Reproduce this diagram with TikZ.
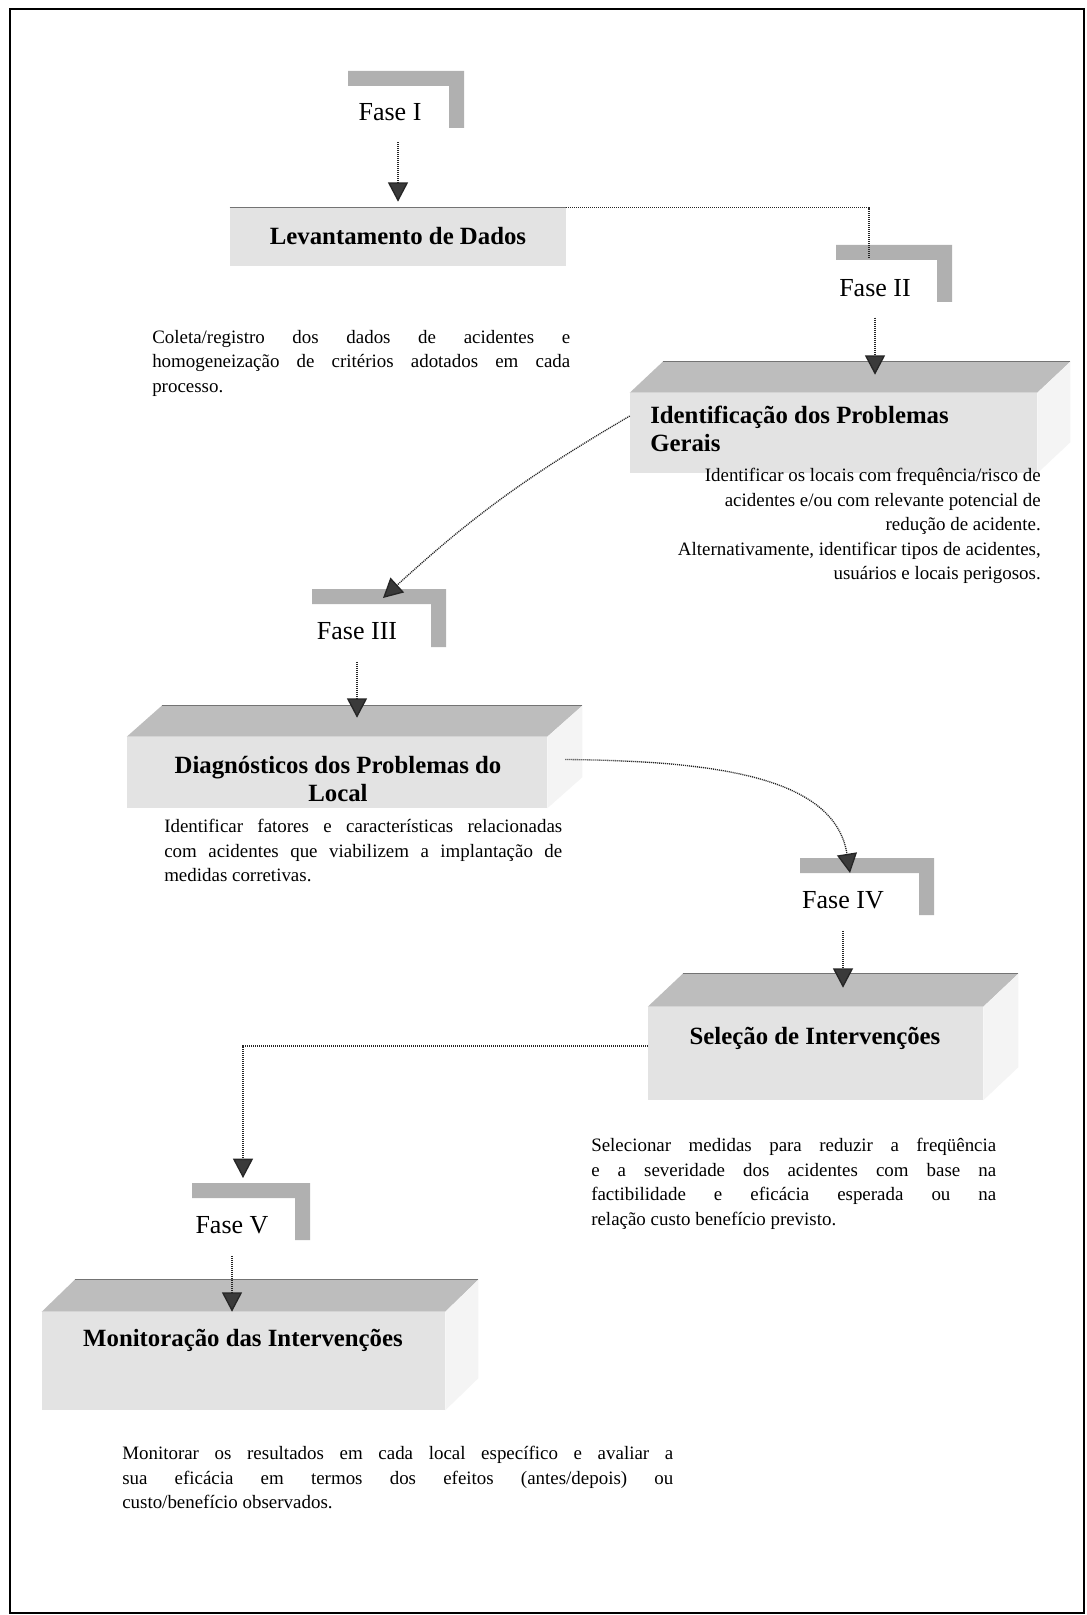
\documentclass[tikz,border=0pt]{standalone}
\usepackage{fontspec}
\setmainfont{Liberation Serif}
\usetikzlibrary{arrows.meta}

\definecolor{bargray}{HTML}{B0B0B0}
\definecolor{topgray}{HTML}{BDBDBD}
\definecolor{frontgray}{HTML}{E3E3E3}
\definecolor{sidegray}{HTML}{F4F4F4}
\definecolor{tipgray}{HTML}{3A3A3A}

\tikzset{
  bodytext/.style={font=\fontsize{14.2}{18.4}\selectfont, inner sep=0pt, align=justify},
  boxtitle/.style={font=\fontsize{18.6}{21}\selectfont\bfseries, inner sep=0pt},
  faselabel/.style={font=\fontsize{19.5}{22}\selectfont, inner sep=0pt},
  frontface/.style={fill=frontgray, draw=none, inner sep=0pt},
  flow/.style={line width=1pt, dash pattern=on 0.8pt off 0.7pt, draw=black!85},
  arr/.style={flow, -{Triangle[width=15pt,length=14.5pt,fill=tipgray]}},
}

% L-shaped phase marker: #1,#2 top-left corner, #3 right end, #4 bottom of the vertical bar
\newcommand\phasemark[4]{%
  \fill[bargray] (#1,#2) -- (#3,#2) -- (#3,#4) -- (#3-15,#4) -- (#3-15,#2+15) -- (#1,#2+15) -- cycle;}

% top and side faces of a block whose front face is node #1, depth (#2,#3)
\newcommand\blockfaces[3]{%
  \fill[topgray] (#1.north west) -- ++(#2,-#3) -- ([shift={(#2,-#3)}]#1.north east) -- (#1.north east) -- cycle;
  \fill[sidegray] (#1.north east) -- ++(#2,-#3) -- ([shift={(#2,-#3)}]#1.south east) -- (#1.south east) -- cycle;
  \draw[black!55, line width=0.5pt] ([shift={(#2,-#3)}]#1.north west) -- ([shift={(#2,-#3)}]#1.north east);}

\begin{document}
\begin{tikzpicture}[x=0.75pt, y=-0.75pt]
\useasboundingbox (0,0) rectangle (1086,1615);
\fill[white] (0,0) rectangle (1086,1615);
\draw[line width=1.8pt] (10,9) rectangle (1084,1613);

% phase markers
\phasemark{348}{71}{464}{128}
\phasemark{836}{245}{952}{302}
\phasemark{312}{589}{446}{647}
\phasemark{800}{858}{934}{915}
\phasemark{192}{1183}{310}{1240}

% block front faces
\node[frontface, minimum width=252pt, minimum height=43.5pt] (lev) at (398,237) {};
\draw[black!55, line width=0.5pt] (lev.north west) -- (lev.north east);
\node[frontface, minimum width=305.25pt, minimum height=60pt] (ident) at (833.5,433) {};
\blockfaces{ident}{33}{31}
\node[frontface, minimum width=315pt, minimum height=53.25pt] (diag) at (337,772.5) {};
\blockfaces{diag}{35}{31}
\node[frontface, minimum width=251.25pt, minimum height=69.75pt] (sel) at (815.5,1053.5) {};
\blockfaces{sel}{35}{33}
\node[frontface, minimum width=302.25pt, minimum height=73.5pt] (mon) at (243.5,1361) {};
\blockfaces{mon}{33}{32}

% phase labels
\node[faselabel] (f1) at (390,112.5) {Fase I};
\node[faselabel] (f2) at (875,288) {Fase II};
\node[faselabel] (f3) at (357,631) {Fase III};
\node[faselabel] (f4) at (843,900) {Fase IV};
\node[faselabel] (f5) at (232,1225) {Fase V};

% free ends of connectors
\coordinate (f2top) at (869,258);
\coordinate (f3in) at (383,598);
\coordinate (f4in) at (850,873);
\coordinate (f5in) at (243,1178);

% connectors
\draw[arr, shorten <=15.5pt, shorten >=4.5pt] (lev.north |- f1.south) -- (lev.north);
\draw[flow] (lev.north east) -| (f2top);
\draw[arr, shorten <=15.5pt, shorten >=13.5pt] (f2.south) -- (f2.south |- ident.north);
\draw[arr] ([yshift=12.75pt]ident.west) to[bend right=6] (f3in);
\draw[arr, shorten <=16.5pt, shorten >=14.25pt] (f3.south) -- (f3.south |- diag.north);
\draw[arr] ([shift={(18,-13)}]diag.east) .. controls (720,761) and (835,778) .. (f4in);
\draw[arr, shorten <=16.5pt, shorten >=14.25pt] (f4.south) -- (f4.south |- sel.north);
\draw[arr] ([yshift=5.6pt]sel.west) -| (f5in);
\draw[arr, shorten <=16.5pt] (f5.south) -- (f5.south |- mon.north);

% block titles
\node[boxtitle] (levT) at (398,236) {Levantamento de Dados};
\node[boxtitle, anchor=west, align=left] (identT) at (650,429) {Identificação dos Problemas\\Gerais};
\node[boxtitle, align=center] (diagT) at (338,779) {Diagnósticos dos Problemas do\\Local};
\node[boxtitle] (selT) at (815,1038) {Seleção de Intervenções};
\node[boxtitle] (monT) at (243,1340) {Monitoração das Intervenções};

% descriptions
\node[bodytext, text width=313.5pt, anchor=north west] (coleta) at (152,330)
  {Coleta/registro dos dados de acidentes e\linebreak homogeneização de critérios adotados em cada\linebreak processo.};
\node[bodytext, align=right, anchor=north east] (identD) at (1041,468)
  {Identificar os locais com frequência/risco de\\ acidentes e/ou com relevante potencial de\\ redução de acidente.\\ Alternativamente, identificar tipos de acidentes,\\ usuários e locais perigosos.};
\node[bodytext, text width=298.5pt, anchor=north west] (diagD) at (164,819)
  {Identificar fatores e características relacionadas\linebreak com acidentes que viabilizem a implantação de\linebreak medidas corretivas.};
\node[bodytext, text width=303.75pt, anchor=north west] (selD) at (591,1138)
  {Selecionar medidas para reduzir a freqüência\linebreak e a severidade dos acidentes com base na\linebreak factibilidade e eficácia esperada ou na\linebreak relação custo benefício previsto.};
\node[bodytext, text width=413.25pt, anchor=north west] (monD) at (122,1446)
  {Monitorar os resultados em cada local específico e avaliar a\linebreak sua eficácia em termos dos efeitos (antes/depois) ou\linebreak custo/benefício observados.};
\end{tikzpicture}
\end{document}
